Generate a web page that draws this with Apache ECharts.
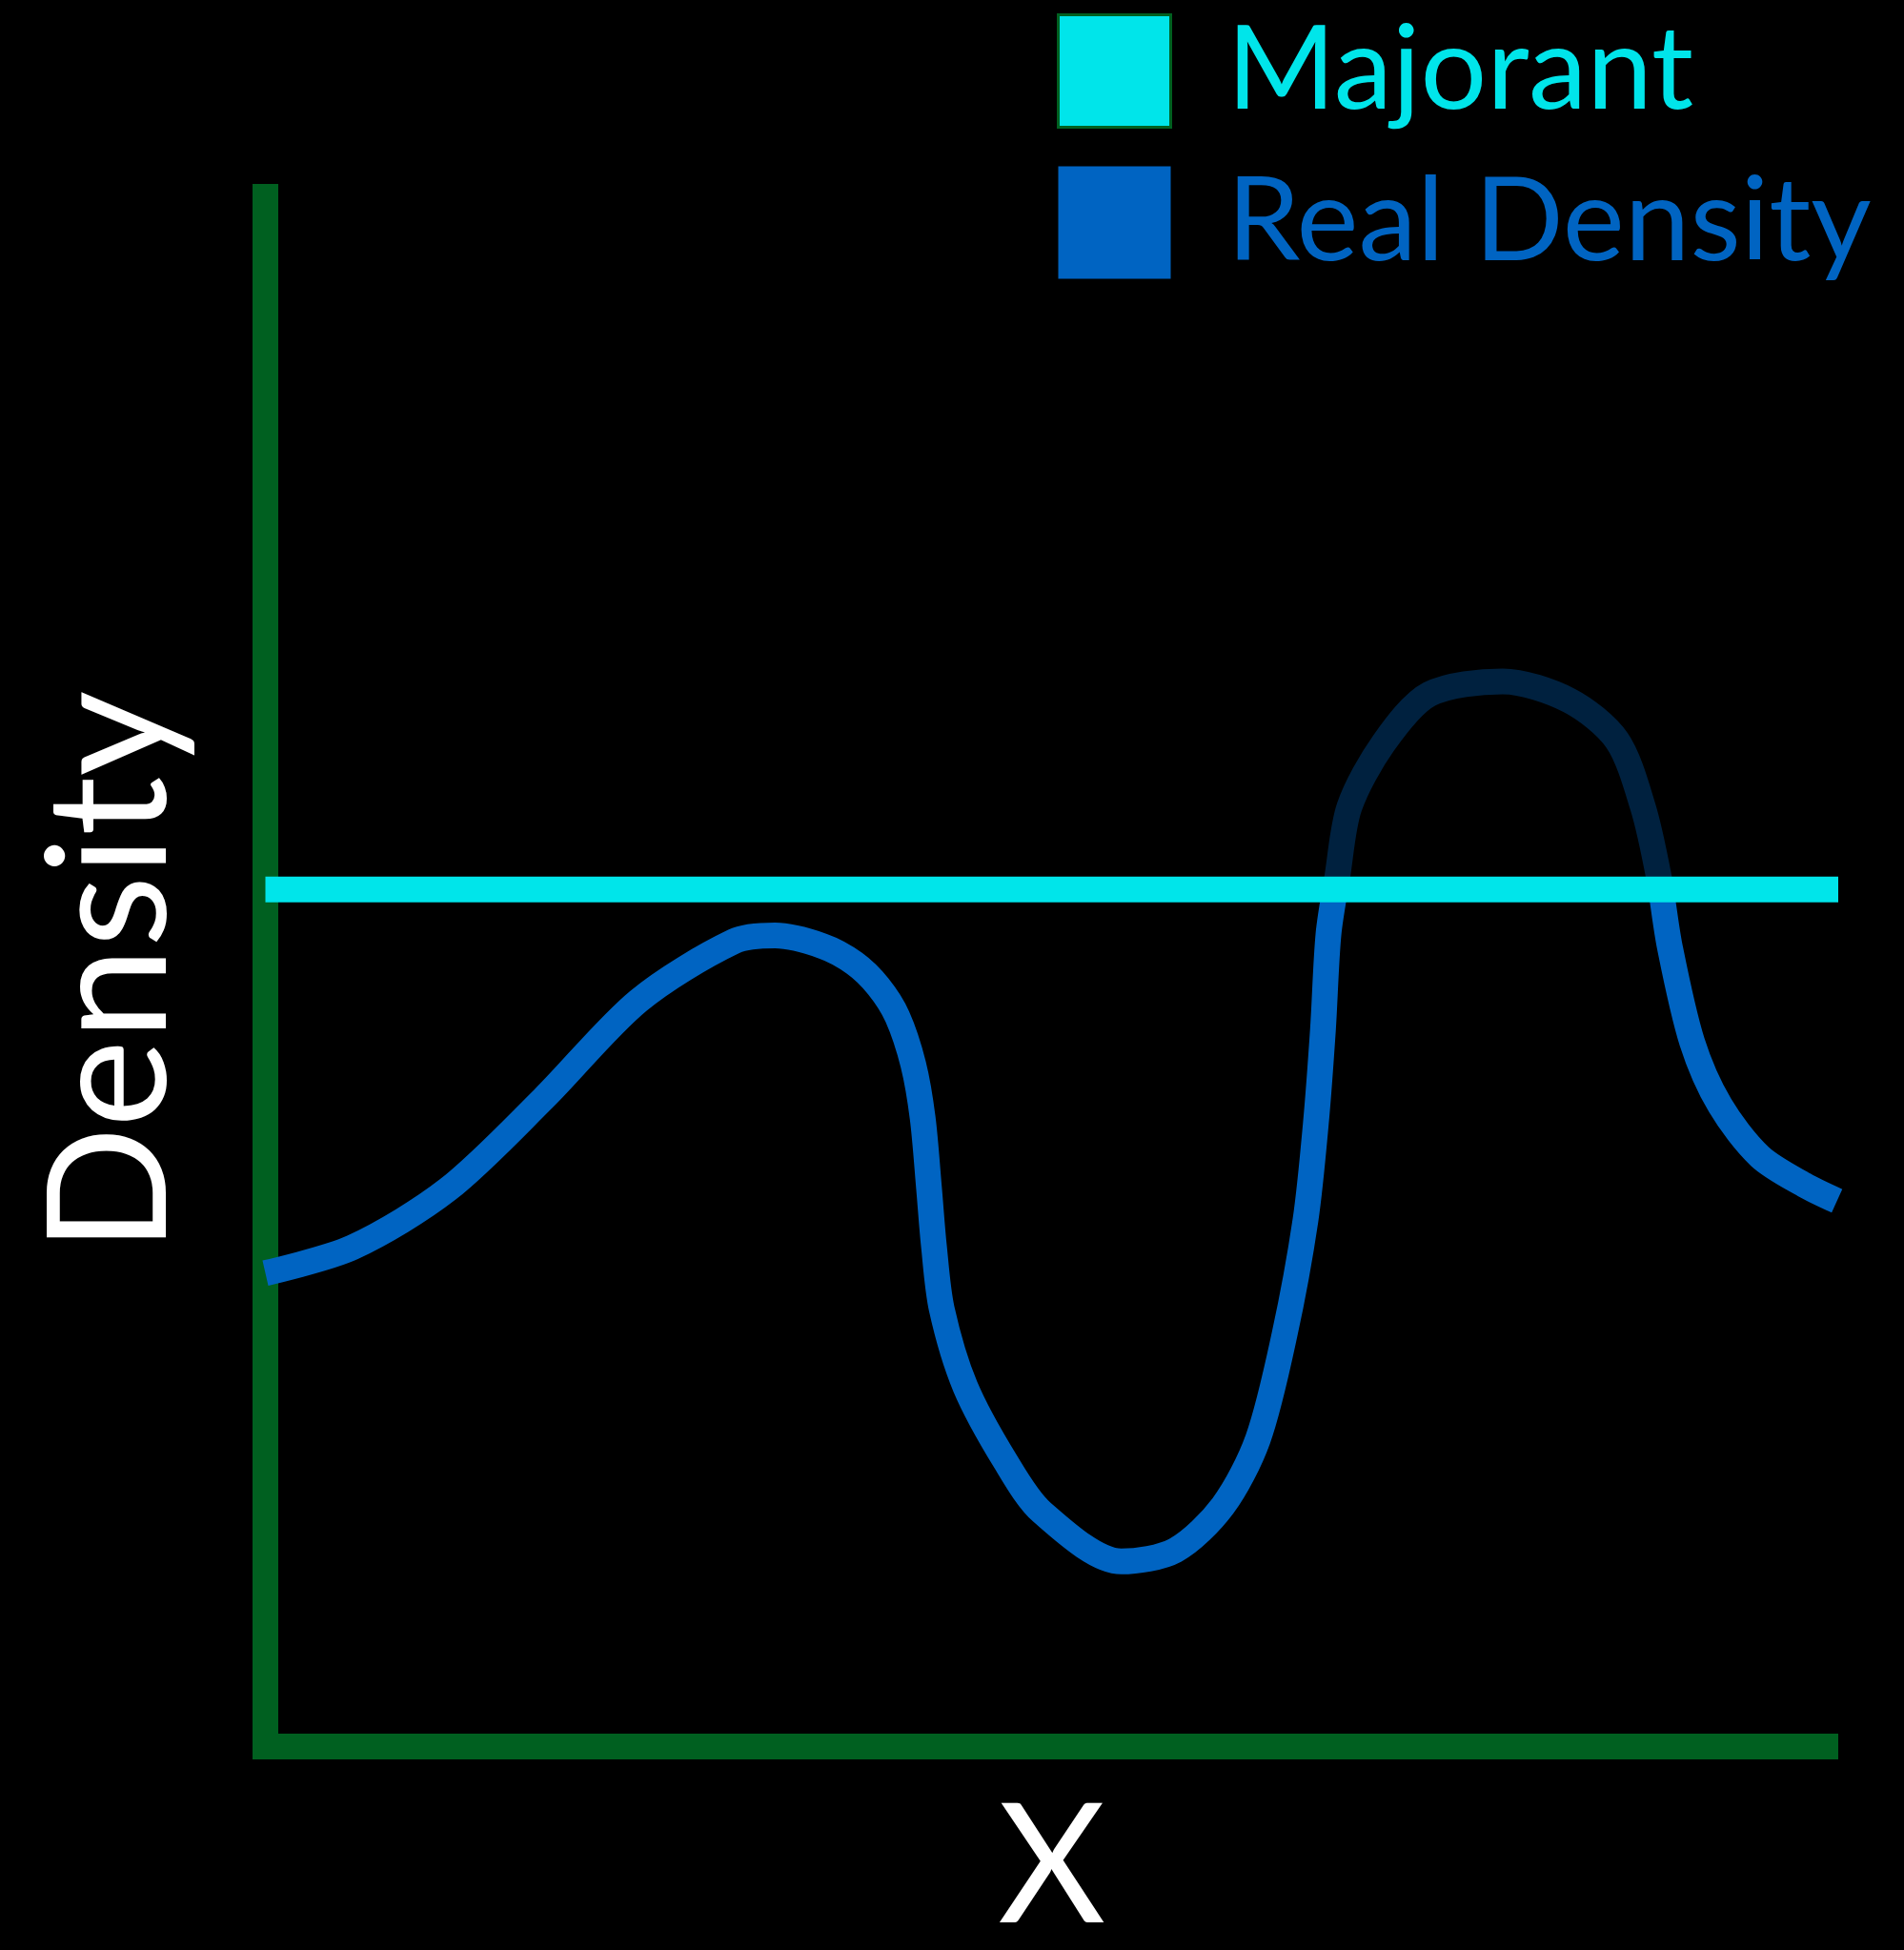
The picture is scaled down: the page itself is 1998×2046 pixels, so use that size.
<!DOCTYPE html>
<html>
<head>
<meta charset="utf-8">
<script src="https://cdn.jsdelivr.net/npm/echarts@6/dist/echarts.min.js"></script>
<style>
  html, body { margin: 0; padding: 0; background: #000; }
  #chart { width: 1998px; height: 2046px; }
</style>
</head>
<body>
<div id="chart"></div>
<script>
// ---- data ----
const seriesNames = ['Majorant', 'Real Density'];
const majorantValue = 55.3;
const majorantX = [0, 100];
const curveX = [0.0, 5.54, 11.60, 17.66, 23.72, 29.78, 32.40, 35.43, 37.46, 38.97, 40.18, 41.19, 41.79, 42.20, 42.50, 43.00, 44.50, 47.05, 49.37, 54.42, 57.85, 60.88, 63.10, 64.80, 66.13, 66.78, 67.24, 67.59, 68.15, 68.92, 71.08, 74.01, 78.66, 82.90, 85.93, 87.58, 88.59, 89.29, 90.71, 92.49, 95.01, 97.84, 99.92];
const curveY = [30.55, 32.21, 35.95, 41.79, 48.12, 51.95, 52.33, 51.65, 50.54, 49.05, 47.10, 44.02, 40.54, 35.93, 32.34, 28.24, 23.22, 18.40, 15.12, 11.94, 12.66, 15.53, 19.83, 26.60, 33.98, 40.13, 46.28, 52.43, 56.12, 60.63, 64.73, 67.91, 68.73, 67.50, 64.93, 60.63, 56.12, 51.61, 45.46, 41.36, 38.08, 36.24, 35.21];
const axisNames = { x: 'X', y: 'Density' };

// ---- styles ----
const CYAN = '#00E5EA';
const BLUE = '#0064C2';
const DARK = '#00213F';
const GREEN = '#006020';
const FONT = 'Lato';

const chart = echarts.init(document.getElementById('chart'), null, { renderer: 'canvas' });
const option = {
  backgroundColor: '#000',
  animation: false,
  grid: { left: 278.5, right: 69, top: 206.5, bottom: 213.5, containLabel: false, outerBoundsMode: 'none' },
  xAxis: {
    type: 'value', min: 0, max: 100,
    name: axisNames.x, nameLocation: 'middle', nameGap: 128,
    nameTextStyle: { color: '#fff', fontSize: 174, fontFamily: FONT, verticalAlign: 'middle' },
    axisLine: { show: true, lineStyle: { color: GREEN, width: 27, cap: 'butt' } },
    axisTick: { show: false }, axisLabel: { show: false }, splitLine: { show: false }
  },
  yAxis: {
    type: 'value', min: 0, max: 100,
    name: axisNames.y, nameLocation: 'middle', nameGap: 161, nameRotate: 90,
    nameTextStyle: { color: '#fff', fontSize: 174, fontFamily: FONT, verticalAlign: 'middle' },
    axisLine: { show: true, lineStyle: { color: GREEN, width: 27, cap: 'square' } },
    axisTick: { show: false }, axisLabel: { show: false }, splitLine: { show: false }
  },
  legend: {
    orient: 'vertical', left: 1104, top: 8,
    itemWidth: 118, itemHeight: 118, itemGap: 36,
    textStyle: { fontSize: 123, fontFamily: FONT, lineHeight: 118, padding: [0, 0, 0, 54] },
    data: [
      { name: seriesNames[0], icon: 'rect', itemStyle: { color: CYAN, borderColor: GREEN, borderWidth: 3 }, textStyle: { color: CYAN } },
      { name: seriesNames[1], icon: 'rect', itemStyle: { color: BLUE, borderWidth: 0 }, textStyle: { color: BLUE } }
    ],
    selectedMode: false
  },
  visualMap: {
    type: 'piecewise', show: false, seriesIndex: 1, dimension: 1,
    pieces: [
      { gte: 0, lte: majorantValue, color: BLUE },
      { gt: majorantValue, lte: 100, color: DARK }
    ]
  },
  series: [
    {
      name: seriesNames[0], type: 'line', z: 3,
      data: majorantX.map(x => [x, majorantValue]),
      symbol: 'none', lineStyle: { color: CYAN, width: 27 }, itemStyle: { color: CYAN }
    },
    {
      name: seriesNames[1], type: 'line', z: 2,
      data: curveX.map((x, i) => [x, curveY[i]]),
      symbol: 'none', smooth: 0.3,
      lineStyle: { width: 27, cap: 'butt', join: 'round' }, itemStyle: { color: BLUE }
    }
  ]
};
chart.setOption(option);
</script>
</body>
</html>
